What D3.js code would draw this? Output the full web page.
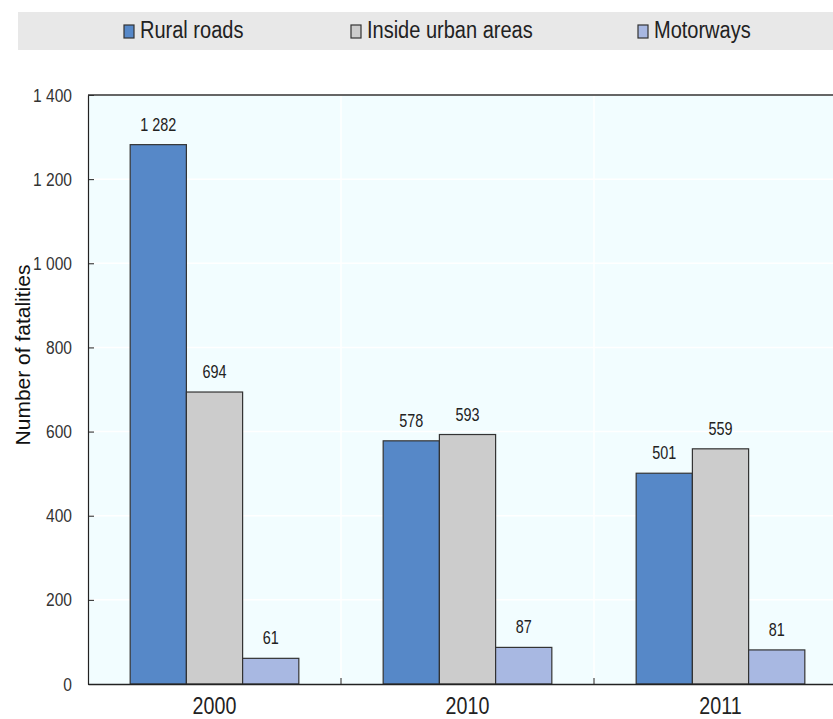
<!DOCTYPE html>
<html><head><meta charset="utf-8">
<script src="https://cdn.jsdelivr.net/npm/d3@7"></script>
<style>
body{margin:0;background:#fff;}
svg{display:block;}
</style></head>
<body>
<svg id="chart" width="833" height="719"></svg>
<script>
const categories = ["2000", "2010", "2011"];
const seriesNames = ["Rural roads", "Inside urban areas", "Motorways"];
const ruralRoads = [1282, 578, 501];
const insideUrban = [694, 593, 559];
const motorways = [61, 87, 81];
const yTicks = [0, 200, 400, 600, 800, 1000, 1200, 1400];
const colors = ["#5688c8", "#cccccc", "#a8b8e2"];

const series = [ruralRoads, insideUrban, motorways];
const font = "'Liberation Sans',Arial,sans-serif";
const svg = d3.select("#chart");

const margin = {left: 88, top: 95};
const plotW = 759, plotH = 589;
const x0 = d3.scaleBand().domain(categories).range([margin.left, margin.left + plotW]).paddingInner(0).paddingOuter(0);
const x1 = d3.scaleBand().domain(d3.range(3)).range([0, x0.bandwidth()]).paddingOuter(0.75).paddingInner(0);
const y = d3.scaleLinear().domain([0, 1400]).range([margin.top + plotH, margin.top]);
const fmt = v => d3.format(",")(v).replace(/,/g, " ");

// legend
svg.append("rect").attr("x", 18).attr("y", 12).attr("width", 830).attr("height", 38).attr("fill", "#e8e8e8");
const legX = [124, 351, 638];
seriesNames.forEach((n, i) => {
  svg.append("rect").attr("x", legX[i]).attr("y", 25).attr("width", 10).attr("height", 13)
    .attr("fill", colors[i]).attr("stroke", "#333").attr("stroke-width", 1.2);
  svg.append("text").attr("transform", `translate(${legX[i] + 16},38) scale(0.87,1)`).text(n)
    .attr("font-family", font).attr("font-size", 23).attr("fill", "#222");
});

// plot background
svg.append("rect").attr("x", margin.left).attr("y", margin.top).attr("width", plotW).attr("height", plotH).attr("fill", "#f2fdff");
// gridlines
svg.append("g").selectAll("line").data(yTicks.slice(1)).join("line")
  .attr("x1", margin.left).attr("x2", margin.left + plotW)
  .attr("y1", d => y(d)).attr("y2", d => y(d)).attr("stroke", "#ffffff").attr("stroke-width", 1.5);
svg.append("g").selectAll("line").data(categories.slice(1)).join("line")
  .attr("x1", d => x0(d)).attr("x2", d => x0(d))
  .attr("y1", margin.top).attr("y2", margin.top + plotH).attr("stroke", "#ffffff").attr("stroke-width", 1.5);

// bars
const groups = svg.append("g").selectAll("g").data(categories).join("g")
  .attr("transform", d => `translate(${x0(d)},0)`);
groups.each(function(cat, ci) {
  const g = d3.select(this);
  series.forEach((s, si) => {
    const v = s[ci];
    g.append("rect").attr("x", x1(si)).attr("y", y(v)).attr("width", x1.bandwidth()).attr("height", y(0) - y(v))
      .attr("fill", colors[si]).attr("stroke", "#333").attr("stroke-width", 1.2);
    g.append("text")
      .attr("transform", `translate(${x1(si) + x1.bandwidth() / 2},${y(v) - 14}) scale(0.8,1)`)
      .attr("text-anchor", "middle").attr("font-family", font).attr("font-size", 18).attr("fill", "#222")
      .text(fmt(v));
  });
});

// axes
const yAxis = d3.axisLeft(y).tickValues(yTicks).tickSizeInner(-6).tickSizeOuter(0).tickPadding(19.5).tickFormat(fmt);
const ya = svg.append("g").attr("transform", `translate(${margin.left},0)`).call(yAxis);
ya.select(".domain").attr("stroke", "#222").attr("stroke-width", 1.2);
ya.selectAll(".tick line").attr("stroke", "#222");
ya.selectAll("text").attr("font-family", font).attr("font-size", 19).attr("fill", "#333")
  .attr("transform", "scale(0.82,1)");

const xAxis = d3.axisBottom(x0).tickSize(0).tickPadding(13);
const xa = svg.append("g").attr("transform", `translate(0,${margin.top + plotH})`).call(xAxis);
xa.select(".domain").attr("stroke", "#222").attr("stroke-width", 1.5);
xa.selectAll("text").attr("font-family", font).attr("font-size", 24).attr("fill", "#222")
  .attr("transform", "scale(0.82,1)");
xa.selectAll(".sep").data(categories.slice(1)).join("line").attr("class", "sep")
  .attr("x1", d => x0(d)).attr("x2", d => x0(d)).attr("y1", 0).attr("y2", -6).attr("stroke", "#222");

// top border
svg.append("line").attr("x1", margin.left).attr("x2", margin.left + plotW).attr("y1", margin.top).attr("y2", margin.top)
  .attr("stroke", "#333").attr("stroke-width", 1.5);

// y title
svg.append("text").attr("transform", `translate(30,355) rotate(-90)`).attr("text-anchor", "middle")
  .attr("font-family", font).attr("font-size", 21).attr("fill", "#111")
  .text("Number of fatalities");
</script>
</body></html>
